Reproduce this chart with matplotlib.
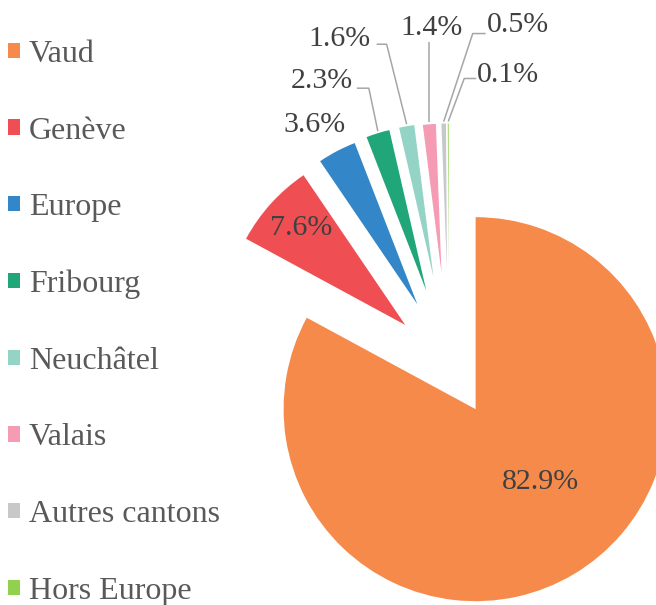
import numpy as np
import matplotlib
matplotlib.use("Agg")
import matplotlib.pyplot as plt

# ---------- data ---------- #
names = ["Vaud", "Genève", "Europe", "Fribourg", "Neuchâtel", "Valais",
         "Autres cantons", "Hors Europe"]
shares = [82.9, 7.6, 3.6, 2.3, 1.6, 1.4, 0.5, 0.1]
pct_labels = ["82.9%", "7.6%", "3.6%", "2.3%", "1.6%", "1.4%", "0.5%", "0.1%"]

# ---------- style ---------- #
COLORS = ["#F58A4B", "#EF4E52", "#3386C8", "#21A67A", "#94D4C6", "#F59CB4",
          "#C7C8CA", "#92D050"]
EXPLODE = [52, 59, 68, 77, 89, 92, 95, 97]          # px offset of each slice
RADII = [192, 181, 173, 165, 153, 149, 146, 144]     # px radius of each slice
CENTER = (449, 240.5)
FONT = "Liberation Serif"
LEADER = "#A6A6A6"
LABEL_C = "#404040"

# label offsets from the slice's outer-arc midpoint: (text dx, dy, elbow list)
LABEL_POS = [
    dict(text=(-33, 92), ha="center", line=None),
    dict(text=(30, -24), ha="center", line=None),
    dict(text=(-22, 26), ha="center", line=None),
    dict(text=(-25, 52), ha="right", line=[(-9, 45), (-21, 45)]),
    dict(text=(-36, 87), ha="right", line=[(-20, 82), (-30, 82)]),
    dict(text=(2, 96), ha="center", line=[(0, 82)]),
    dict(text=(43, 99), ha="left", line=[(29, 90), (42, 90)]),
    dict(text=(29, 49), ha="left", line=[(16, 45), (28, 45)]),
]

fig = plt.figure(figsize=(6.56, 6.05), dpi=100)
ax = fig.add_axes([0, 0, 1, 1])

wedges, _ = ax.pie(shares, colors=COLORS, startangle=90, counterclock=False,
                   explode=EXPLODE, center=CENTER, radius=1, frame=False)
for w, r in zip(wedges, RADII):
    w.set_radius(r)

ax.set_xlim(0, 656)
ax.set_ylim(0, 605)
ax.set_aspect("auto")
ax.axis("off")

# ---------- labels ---------- #
for w, lab, pos in zip(wedges, pct_labels, LABEL_POS):
    mid = np.deg2rad((w.theta1 + w.theta2) / 2)
    ax_x = w.center[0] + w.r * np.cos(mid)
    ax_y = w.center[1] + w.r * np.sin(mid)
    if pos["line"]:
        xs = [ax_x] + [ax_x + dx for dx, _ in pos["line"]]
        ys = [ax_y + 2] + [ax_y + dy for _, dy in pos["line"]]
        ax.plot(xs, ys, color=LEADER, lw=1.1, solid_capstyle="butt", zorder=1)
    ax.text(ax_x + pos["text"][0], ax_y + pos["text"][1], lab,
            ha=pos["ha"], va="center", fontsize=21.5, family=FONT,
            color=LABEL_C, zorder=3)

# ---------- legend ---------- #
ax.legend(wedges, names, loc="upper left", bbox_to_anchor=(8 / 656, 1 - 40 / 605),
          frameon=False, prop=dict(family=FONT, size=23), labelcolor="#595959",
          handlelength=0.36, handleheight=0.36, handletextpad=0.3,
          labelspacing=1.49, borderpad=0, borderaxespad=0)

fig.savefig("out.png", dpi=100)
